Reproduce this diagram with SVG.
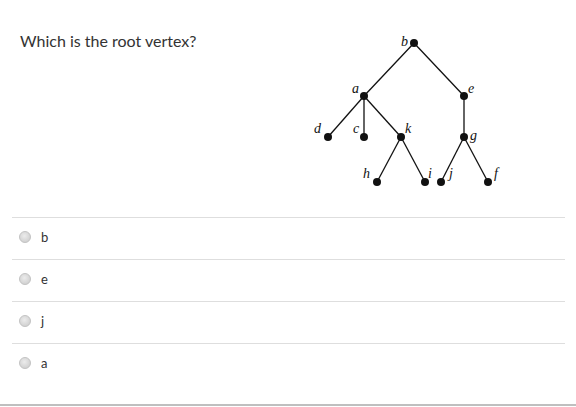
<svg xmlns="http://www.w3.org/2000/svg" width="576" height="407" viewBox="0 0 576 407">
<defs>
<radialGradient id="rg" cx="0.45" cy="0.4" r="0.6">
<stop offset="0" stop-color="#ececec"/>
<stop offset="1" stop-color="#cfcfcf"/>
</radialGradient>
</defs>
<style>
.q{font-family:Lato,"Open Sans","Liberation Sans",sans-serif;fill:#333}
.lbl{font-family:"Liberation Serif","DejaVu Serif",serif;font-style:italic;font-size:14px;fill:#111}
.edge{stroke:#111;stroke-width:1.3;fill:none}
.dot{fill:#111}
.sep{stroke:#dedede;stroke-width:1}
.radio{fill:url(#rg);stroke:#c4c4c4;stroke-width:1}
.opt{font-size:13px}
</style>
<rect width="576" height="407" fill="#fff"/>
<text class="q" x="20" y="47" font-size="16">Which is the root vertex?</text>
<g id="connectors">
<line class="edge" x1="414" y1="43" x2="364" y2="96"/>
<line class="edge" x1="414" y1="43" x2="464" y2="96"/>
<line class="edge" x1="364" y1="96" x2="328" y2="137"/>
<line class="edge" x1="364" y1="96" x2="364" y2="137"/>
<line class="edge" x1="364" y1="96" x2="401" y2="137"/>
<line class="edge" x1="401" y1="137" x2="377" y2="182"/>
<line class="edge" x1="401" y1="137" x2="425" y2="182"/>
<line class="edge" x1="464" y1="96" x2="464" y2="137"/>
<line class="edge" x1="464" y1="137" x2="441" y2="182"/>
<line class="edge" x1="464" y1="137" x2="488" y2="182"/>
</g>
<g id="node-b"><circle class="dot" cx="414" cy="43" r="4"/><text class="lbl" x="401" y="46">b</text></g>
<g id="node-a"><circle class="dot" cx="364" cy="96" r="4"/><text class="lbl" x="352" y="93">a</text></g>
<g id="node-e"><circle class="dot" cx="464" cy="96" r="4"/><text class="lbl" x="468" y="93">e</text></g>
<g id="node-d"><circle class="dot" cx="328" cy="137" r="4"/><text class="lbl" x="314" y="133">d</text></g>
<g id="node-c"><circle class="dot" cx="364" cy="137" r="4"/><text class="lbl" x="353" y="133">c</text></g>
<g id="node-k"><circle class="dot" cx="401" cy="137" r="4"/><text class="lbl" x="405" y="133">k</text></g>
<g id="node-g"><circle class="dot" cx="464" cy="137" r="4"/><text class="lbl" x="470" y="140">g</text></g>
<g id="node-h"><circle class="dot" cx="377" cy="182" r="4"/><text class="lbl" x="363" y="178">h</text></g>
<g id="node-i"><circle class="dot" cx="425" cy="182" r="4"/><text class="lbl" x="428" y="178">i</text></g>
<g id="node-j"><circle class="dot" cx="441" cy="182" r="4"/><text class="lbl" x="449" y="178">j</text></g>
<g id="node-f"><circle class="dot" cx="488" cy="182" r="4"/><text class="lbl" x="494" y="178">f</text></g>
<line class="sep" x1="12" y1="217.5" x2="565" y2="217.5"/>
<line class="sep" x1="12" y1="259.5" x2="565" y2="259.5"/>
<line class="sep" x1="12" y1="301.5" x2="565" y2="301.5"/>
<line class="sep" x1="12" y1="343.5" x2="565" y2="343.5"/>
<line x1="0" y1="405" x2="576" y2="405" stroke="#aaa" stroke-width="1.5"/>
<circle class="radio" cx="25" cy="237" r="5.5"/>
<text class="q opt" x="41" y="242">b</text>
<circle class="radio" cx="25" cy="279" r="5.5"/>
<text class="q opt" x="41" y="284">e</text>
<circle class="radio" cx="25" cy="321" r="5.5"/>
<text class="q opt" x="41" y="326">j</text>
<circle class="radio" cx="25" cy="363" r="5.5"/>
<text class="q opt" x="41" y="368">a</text>
</svg>
